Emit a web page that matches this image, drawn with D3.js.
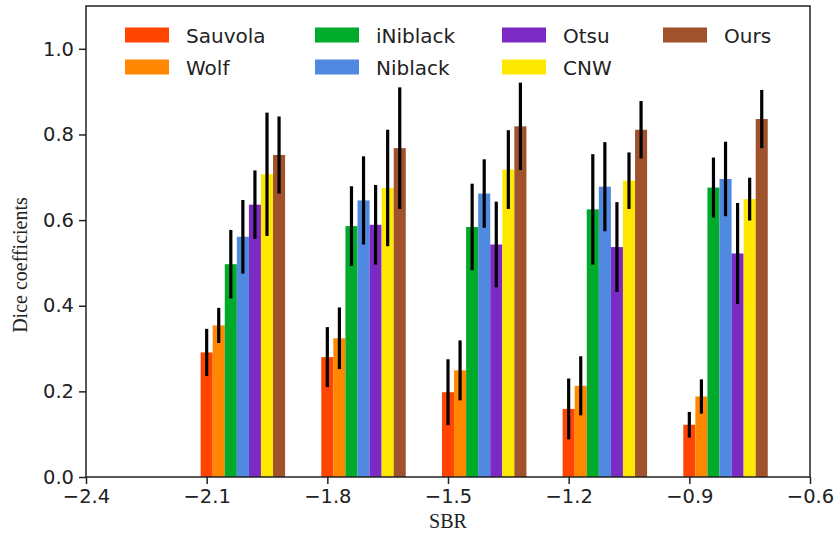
<!DOCTYPE html>
<html><head><meta charset="utf-8">
<script src="https://cdn.jsdelivr.net/npm/d3@7"></script>
<style>body{margin:0;background:#fff}svg{display:block}</style>
</head><body>
<script>
const groups = [-2.1, -1.8, -1.5, -1.2, -0.9];
const methods = ["Sauvola","Wolf","iNiblack","Niblack","Otsu","CNW","Ours"];
const colors = ["#FF4500","#FF8800","#00AA2A","#5089E0","#7B2AC4","#FFE800","#A0522D"];
// mean Dice per method (rows) for each SBR group (columns)
const sauvola  = [0.291, 0.280, 0.198, 0.159, 0.122];
const wolf     = [0.354, 0.324, 0.249, 0.213, 0.188];
const iniblack = [0.497, 0.586, 0.584, 0.625, 0.676];
const niblack  = [0.561, 0.646, 0.662, 0.678, 0.696];
const otsu     = [0.636, 0.589, 0.543, 0.537, 0.522];
const cnw      = [0.707, 0.675, 0.718, 0.692, 0.649];
const ours     = [0.752, 0.768, 0.819, 0.811, 0.836];
// standard deviations
const sauvolaErr  = [0.055, 0.070, 0.077, 0.071, 0.030];
const wolfErr     = [0.041, 0.072, 0.070, 0.069, 0.040];
const iniblackErr = [0.080, 0.093, 0.101, 0.129, 0.070];
const niblackErr  = [0.086, 0.103, 0.080, 0.104, 0.087];
const otsuErr     = [0.080, 0.093, 0.100, 0.105, 0.118];
const cnwErr      = [0.144, 0.136, 0.092, 0.066, 0.050];
const oursErr     = [0.090, 0.142, 0.102, 0.067, 0.068];
const xTicks = [-2.4, -2.1, -1.8, -1.5, -1.2, -0.9, -0.6];
const yTicks = [0.0, 0.2, 0.4, 0.6, 0.8, 1.0];

const values = [sauvola, wolf, iniblack, niblack, otsu, cnw, ours];
const errs = [sauvolaErr, wolfErr, iniblackErr, niblackErr, otsuErr, cnwErr, oursErr];
const barW = 0.03;

const W = 836, H = 538;
const m = {left: 86, right: 26, top: 6, bottom: 61};
const svg = d3.select("body").append("svg").attr("width", W).attr("height", H);
const x = d3.scaleLinear().domain([-2.4, -0.6]).range([m.left, W - m.right]);
const y = d3.scaleLinear().domain([0, 1.1]).range([H - m.bottom, m.top]);

const data = [];
methods.forEach((name, i) => groups.forEach((g, j) => {
  data.push({name, i, pos: g + i * barW, v: values[i][j], e: errs[i][j]});
}));

svg.append("g").selectAll("rect").data(data).join("rect")
  .attr("x", d => x(d.pos - barW / 2))
  .attr("width", d => x(d.pos + barW / 2) - x(d.pos - barW / 2))
  .attr("y", d => y(d.v))
  .attr("height", d => y(0) - y(d.v))
  .attr("fill", d => colors[d.i]);

svg.append("g").selectAll("line").data(data).join("line")
  .attr("x1", d => x(d.pos)).attr("x2", d => x(d.pos))
  .attr("y1", d => y(d.v - d.e)).attr("y2", d => y(d.v + d.e))
  .attr("stroke", "#000").attr("stroke-width", 3.2);

const font = "DejaVu Sans";
const xAxis = svg.append("g").attr("transform", `translate(0,${H - m.bottom})`)
  .call(d3.axisBottom(x).tickValues(xTicks).tickSize(7).tickPadding(5)
    .tickFormat(d => d3.format(".1f")(d).replace("-", "\u2212")));
const yAxis = svg.append("g").attr("transform", `translate(${m.left},0)`)
  .call(d3.axisLeft(y).tickValues(yTicks).tickSize(7).tickPadding(5).tickFormat(d3.format(".1f")));
[xAxis, yAxis].forEach(a => {
  a.selectAll("text").attr("font-family", font).attr("font-size", 19.5).attr("fill", "#222");
  a.selectAll("line").attr("stroke", "#222").attr("stroke-width", 1.5);
  a.select(".domain").remove();
});
// frame
svg.append("rect").attr("x", m.left).attr("y", m.top)
  .attr("width", W - m.left - m.right).attr("height", H - m.top - m.bottom)
  .attr("fill", "none").attr("stroke", "#222").attr("stroke-width", 1.5);

svg.append("text").attr("x", (m.left + W - m.right) / 2).attr("y", 528)
  .attr("text-anchor", "middle").attr("font-family", "Liberation Serif").attr("font-size", 20)
  .attr("fill", "#222").text("SBR");
svg.append("text").attr("transform", "translate(27,265) rotate(-90)")
  .attr("text-anchor", "middle").attr("font-family", "Liberation Serif").attr("font-size", 20)
  .attr("fill", "#222").text("Dice coefficients");

// legend: column-major, 2 rows
const colX = [125, 315, 502, 663];
const rowY = [27.5, 59.5];
const leg = svg.append("g");
methods.forEach((name, i) => {
  const c = Math.floor(i / 2), r = i % 2;
  leg.append("rect").attr("x", colX[c]).attr("y", rowY[r]).attr("width", 44).attr("height", 15)
    .attr("fill", colors[i]);
  leg.append("text").attr("x", colX[c] + 61).attr("y", rowY[r] + 15)
    .attr("font-family", font).attr("font-size", 20).attr("fill", "#222").text(name);
});
</script>
</body></html>
